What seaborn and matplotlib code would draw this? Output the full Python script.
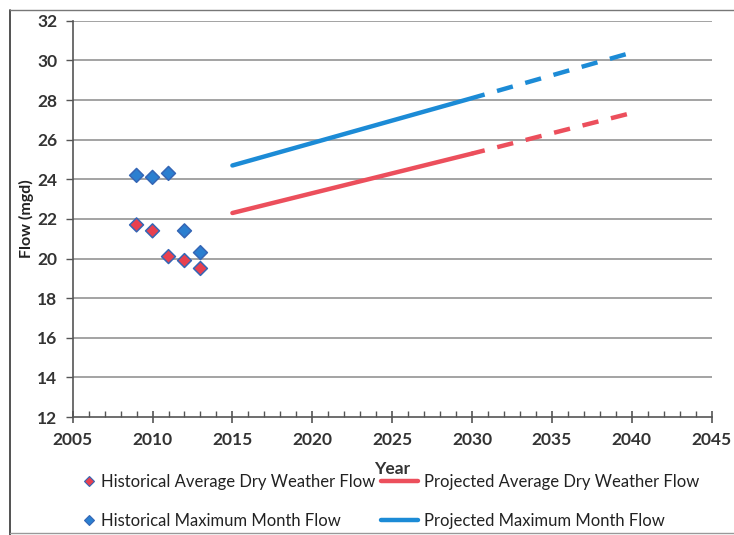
import matplotlib
matplotlib.use("Agg")
import matplotlib.pyplot as plt
from matplotlib.lines import Line2D
import seaborn as sns
import pandas as pd

# Historical flows (mgd)
hist_years = [2009, 2010, 2011, 2012, 2013]
hist_adwf = [21.7, 21.4, 20.1, 19.9, 19.5]
hist_mmf = [24.2, 24.1, 24.3, 21.4, 20.3]

# Projected flows (mgd): solid to 2030, dashed beyond
proj_years = [2015, 2030, 2040]
proj_adwf = [22.3, 25.3, 27.35]
proj_mmf = [24.7, 28.1, 30.4]

x_ticks = [2005, 2010, 2015, 2020, 2025, 2030, 2035, 2040, 2045]
y_ticks = [12, 14, 16, 18, 20, 22, 24, 26, 28, 30, 32]

RED = "#EC4F5C"
BLUE = "#1C8BD6"
MK_RED = "#E8404F"
MK_BLUE = "#2B7FD0"
EDGE = "#3566B5"

sns.set_theme(style="white")
plt.rcParams["font.family"] = ["Lato", "DejaVu Sans"]

fig = plt.figure(figsize=(7.34, 5.35), dpi=100)
ax = fig.add_axes([0.099, 0.2205, 0.8705, 0.7405])

hist = pd.DataFrame({
    "Year": hist_years * 2,
    "Flow": hist_adwf + hist_mmf,
    "Series": ["Historical Average Dry Weather Flow"] * 5
              + ["Historical Maximum Month Flow"] * 5,
})
solid = pd.DataFrame({
    "Year": proj_years[:2] * 2,
    "Flow": proj_adwf[:2] + proj_mmf[:2],
    "Series": ["adwf"] * 2 + ["mmf"] * 2,
})
dashed = pd.DataFrame({
    "Year": proj_years[1:] * 2,
    "Flow": proj_adwf[1:] + proj_mmf[1:],
    "Series": ["adwf"] * 2 + ["mmf"] * 2,
})

# horizontal gridlines
for y in y_ticks[1:]:
    ax.axhline(y, color="#8a8a8a", lw=1.1, zorder=0)

sns.lineplot(data=solid, x="Year", y="Flow", hue="Series",
             palette={"adwf": RED, "mmf": BLUE}, lw=3.2, legend=False,
             ax=ax, zorder=3)
sns.lineplot(data=dashed, x="Year", y="Flow", hue="Series",
             palette={"adwf": RED, "mmf": BLUE}, lw=3.2, legend=False,
             ax=ax, zorder=3)
for ln in ax.get_lines()[-2:]:
    ln.set_linestyle((0.75, (3.7, 2.9)))
    ln.set_dash_capstyle("butt")

sns.scatterplot(data=hist, x="Year", y="Flow", hue="Series",
                palette={"Historical Average Dry Weather Flow": MK_RED,
                         "Historical Maximum Month Flow": MK_BLUE},
                marker="D", s=50, edgecolor=EDGE, linewidth=1.1,
                legend=False, ax=ax, zorder=4)

ax.set_xlim(2005, 2045)
ax.set_ylim(12, 32)
ax.set_xticks(x_ticks)
ax.set_yticks(y_ticks)
ax.set_xticks(range(2005, 2046), minor=True)
ax.tick_params(axis="x", which="major", direction="inout", length=9,
               width=1.2, color="#555555", labelsize=12.5, pad=6,
               labelcolor="#333333", bottom=True)
ax.tick_params(axis="x", which="minor", direction="in", length=4,
               width=1, color="#555555", bottom=True)
ax.tick_params(axis="y", which="major", direction="out", length=5,
               width=1, color="#555555", labelsize=12.5, pad=6,
               labelcolor="#333333", left=True)
for lab in ax.get_xticklabels() + ax.get_yticklabels():
    lab.set_fontweight("bold")

for side in ("top", "right"):
    ax.spines[side].set_visible(False)
for side in ("left", "bottom"):
    ax.spines[side].set_color("#555555")
    ax.spines[side].set_linewidth(1.2)

ax.set_xlabel("Year", fontsize=12.5, fontweight="bold", color="#333333")
ax.xaxis.set_label_coords(0.5, -0.112)
ax.set_ylabel("Flow (mgd)", fontsize=11.5, fontweight="bold",
              color="#222222", labelpad=2)

# legends below the plot
mk_handles = [
    Line2D([], [], marker="D", ls="none", ms=5.5, mfc=MK_RED, mec=EDGE, mew=0.8),
    Line2D([], [], marker="D", ls="none", ms=5.5, mfc=MK_BLUE, mec=EDGE, mew=0.8),
]
ln_handles = [
    Line2D([], [], color=RED, lw=3.2),
    Line2D([], [], color=BLUE, lw=3.2),
]
leg_kw = dict(frameon=False, fontsize=12, labelspacing=1.35,
              handletextpad=0.35, borderpad=0, borderaxespad=0,
              labelcolor="#222222")
leg1 = fig.legend(mk_handles,
                  ["Historical Average Dry Weather Flow",
                   "Historical Maximum Month Flow"],
                  loc="upper left", bbox_to_anchor=(0.112, 0.114),
                  handlelength=0.8, **leg_kw)
leg2 = fig.legend(ln_handles,
                  ["Projected Average Dry Weather Flow",
                   "Projected Maximum Month Flow"],
                  loc="upper left", bbox_to_anchor=(0.519, 0.114),
                  handlelength=2.25, **leg_kw)

# outer frame
fig.add_artist(Line2D([0.0136, 0.0136], [0.0, 0.981], color="#444444",
                      lw=1.3, transform=fig.transFigure))
fig.add_artist(Line2D([0.0136, 1.0], [0.981, 0.981], color="#777777",
                      lw=1.0, transform=fig.transFigure))
fig.add_artist(Line2D([0.0136, 1.0], [0.004, 0.004], color="#999999",
                      lw=1.0, transform=fig.transFigure))

fig.savefig("out.png", dpi=100)
